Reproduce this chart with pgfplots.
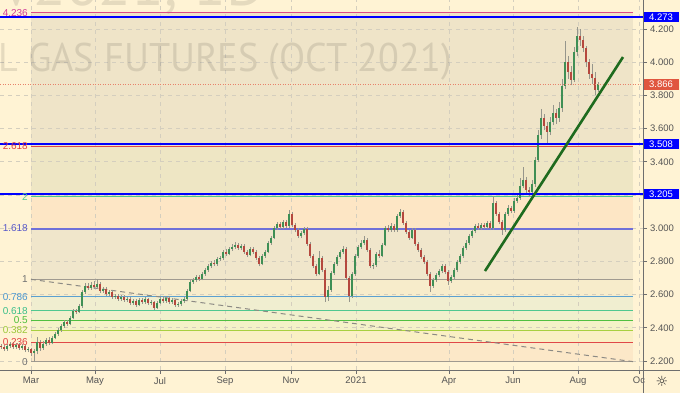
\documentclass[border=0pt]{standalone}
\usepackage{fontspec}
\setmainfont{Liberation Sans}
\newfontfamily\wmfont{PT Sans}
\newfontfamily\symfont{DejaVu Sans}
\usepackage{pgfplots}
\usepackage{pgfplotstable}
\pgfplotsset{compat=1.18}

\definecolor{cream}{HTML}{FFF3D4}
\definecolor{bA}{HTML}{FCE8C8}% 0-0.236
\definecolor{bB}{HTML}{FAF0C4}% 0.236-0.382
\definecolor{bC}{HTML}{F4F2C8}% 0.382-0.5
\definecolor{bD}{HTML}{F0F0CD}% 0.5-0.618
\definecolor{bE}{HTML}{F0EED0}% 0.618-0.786
\definecolor{bF}{HTML}{F7ECCB}% 0.786-1
\definecolor{bG}{HTML}{F0E6CB}% 1-1.618
\definecolor{bH}{HTML}{FDE6C5}% 1.618-2
\definecolor{bI}{HTML}{EEE6C4}% 2-2.618
\definecolor{bJ}{HTML}{EFE4C8}% 2.618-4.236
\definecolor{gridc}{RGB}{212,206,190}
\definecolor{axc}{RGB}{110,110,110}
\definecolor{labc}{RGB}{85,85,85}
\definecolor{tvblue}{HTML}{0000FF}
\definecolor{tvred}{HTML}{E0563F}
\definecolor{dotc}{HTML}{E8826A}
\definecolor{trendc}{HTML}{1E6B1E}
\definecolor{diagc}{HTML}{8C8A84}
\definecolor{upc}{RGB}{63,143,85}
\definecolor{dnc}{RGB}{181,72,62}
\definecolor{wickc}{RGB}{150,150,140}
\definecolor{fA}{HTML}{DE4B85}\definecolor{lA}{HTML}{D23C96}
\definecolor{fB}{HTML}{E04848}\definecolor{lB}{HTML}{E04040}
\definecolor{fC}{HTML}{4CC88C}\definecolor{lC}{HTML}{50C890}
\definecolor{fD}{HTML}{7070D8}\definecolor{lD}{HTML}{5858C8}
\definecolor{fE}{HTML}{A09A90}\definecolor{lE}{HTML}{707070}
\definecolor{fF}{HTML}{5AA0D0}\definecolor{lF}{HTML}{4A96D0}
\definecolor{fG}{HTML}{50C890}\definecolor{lG}{HTML}{3CBF8A}
\definecolor{fH}{HTML}{50C040}\definecolor{lH}{HTML}{4CBF3A}
\definecolor{fI}{HTML}{A8D040}\definecolor{lI}{HTML}{9CC83A}

\newcommand\pb[2]{{\setlength{\fboxsep}{1.8pt}\colorbox{#1}{\makebox[32pt][c]{\textcolor{white}{#2}}}}}

\pgfplotstableread{
x o h l c
1 2.290 2.302 2.272 2.284
4 2.284 2.296 2.260 2.272
7 2.272 2.302 2.262 2.290
10 2.290 2.316 2.280 2.302
13 2.302 2.312 2.274 2.284
16 2.284 2.308 2.272 2.296
19 2.296 2.306 2.266 2.278
22 2.278 2.300 2.268 2.290
25 2.290 2.298 2.254 2.266
28 2.266 2.284 2.252 2.272
31 2.272 2.280 2.232 2.248
34 2.248 2.272 2.196 2.260
37 2.260 2.345 2.240 2.314
40 2.314 2.326 2.262 2.278
43 2.278 2.318 2.268 2.302
46 2.302 2.340 2.292 2.327
49 2.327 2.342 2.298 2.308
52 2.308 2.350 2.300 2.339
55 2.339 2.374 2.330 2.363
58 2.363 2.398 2.352 2.387
61 2.387 2.422 2.376 2.411
64 2.411 2.446 2.400 2.435
67 2.435 2.448 2.412 2.423
70 2.423 2.470 2.414 2.459
73 2.459 2.512 2.450 2.501
76 2.501 2.514 2.484 2.495
79 2.495 2.545 2.488 2.531
82 2.531 2.630 2.522 2.616
85 2.616 2.668 2.604 2.652
88 2.652 2.672 2.628 2.640
91 2.640 2.676 2.630 2.658
94 2.658 2.680 2.634 2.646
97 2.646 2.692 2.636 2.664
100 2.664 2.676 2.610 2.622
103 2.622 2.648 2.610 2.634
106 2.634 2.644 2.594 2.604
109 2.604 2.628 2.592 2.616
112 2.616 2.626 2.576 2.586
115 2.586 2.604 2.574 2.592
118 2.592 2.602 2.562 2.573
121 2.573 2.598 2.562 2.586
124 2.586 2.596 2.556 2.567
127 2.567 2.586 2.554 2.573
130 2.573 2.584 2.538 2.549
133 2.549 2.574 2.540 2.561
136 2.561 2.572 2.526 2.537
139 2.537 2.580 2.530 2.567
142 2.567 2.578 2.544 2.555
145 2.555 2.586 2.546 2.573
148 2.573 2.582 2.538 2.549
151 2.549 2.568 2.536 2.555
154 2.555 2.564 2.510 2.519
157 2.519 2.560 2.512 2.549
160 2.549 2.586 2.542 2.573
163 2.573 2.590 2.550 2.561
166 2.561 2.594 2.552 2.580
169 2.580 2.590 2.546 2.555
172 2.555 2.580 2.544 2.567
175 2.567 2.576 2.528 2.537
178 2.537 2.556 2.526 2.543
181 2.543 2.574 2.534 2.561
184 2.561 2.586 2.552 2.573
187 2.573 2.636 2.566 2.622
190 2.622 2.690 2.614 2.676
193 2.676 2.702 2.664 2.688
196 2.688 2.720 2.678 2.706
199 2.706 2.718 2.682 2.694
202 2.694 2.736 2.686 2.724
205 2.724 2.760 2.714 2.748
208 2.748 2.784 2.738 2.772
211 2.772 2.804 2.762 2.790
214 2.790 2.806 2.772 2.784
217 2.784 2.826 2.774 2.814
220 2.814 2.834 2.802 2.820
223 2.820 2.870 2.810 2.857
226 2.857 2.872 2.834 2.845
229 2.845 2.888 2.836 2.875
232 2.875 2.902 2.864 2.887
235 2.887 2.914 2.876 2.899
238 2.899 2.910 2.870 2.881
241 2.881 2.906 2.868 2.893
244 2.893 2.904 2.846 2.857
247 2.857 2.868 2.826 2.839
250 2.839 2.888 2.830 2.875
253 2.875 2.886 2.846 2.857
256 2.857 2.868 2.808 2.820
259 2.820 2.830 2.770 2.784
262 2.784 2.846 2.776 2.833
265 2.833 2.870 2.822 2.857
268 2.857 2.924 2.848 2.911
271 2.911 2.954 2.900 2.941
274 2.941 3.014 2.932 3.001
277 3.001 3.040 2.990 3.025
280 3.025 3.038 2.994 3.007
283 3.007 3.050 2.996 3.037
286 3.037 3.048 3.000 3.013
289 3.013 3.110 3.004 3.086
292 3.086 3.096 3.006 3.019
295 3.019 3.030 2.976 2.989
298 2.989 3.000 2.940 2.953
301 2.953 2.986 2.942 2.971
304 2.971 3.010 2.962 2.995
307 2.995 3.006 2.894 2.905
310 2.905 2.916 2.820 2.833
313 2.833 2.844 2.760 2.772
316 2.772 2.784 2.712 2.724
319 2.724 2.860 2.716 2.820
322 2.820 2.832 2.736 2.748
325 2.748 2.760 2.556 2.586
328 2.586 2.650 2.560 2.628
331 2.628 2.744 2.618 2.730
334 2.730 2.798 2.720 2.784
337 2.784 2.840 2.774 2.827
340 2.827 2.870 2.816 2.857
343 2.857 2.890 2.846 2.875
346 2.875 2.886 2.690 2.700
349 2.700 2.710 2.556 2.592
352 2.592 2.736 2.580 2.724
355 2.724 2.846 2.714 2.833
358 2.833 2.900 2.822 2.887
361 2.887 2.926 2.876 2.911
364 2.911 2.950 2.900 2.929
367 2.929 2.940 2.858 2.869
370 2.869 2.880 2.760 2.772
373 2.772 2.792 2.752 2.778
376 2.778 2.858 2.768 2.845
379 2.845 2.866 2.822 2.833
382 2.833 2.912 2.824 2.899
385 2.899 3.014 2.890 3.001
388 3.001 3.018 2.976 2.989
391 2.989 3.030 2.978 3.013
394 3.013 3.026 2.976 2.989
397 2.989 3.088 2.980 3.074
400 3.074 3.116 3.062 3.098
403 3.098 3.108 3.020 3.031
406 3.031 3.042 2.966 2.977
409 2.977 2.990 2.930 2.941
412 2.941 3.004 2.932 2.989
415 2.989 3.000 2.894 2.905
418 2.905 2.916 2.858 2.869
421 2.869 2.880 2.816 2.827
424 2.827 2.838 2.784 2.796
427 2.796 2.808 2.712 2.724
430 2.724 2.736 2.616 2.652
433 2.652 2.702 2.640 2.688
436 2.688 2.732 2.676 2.718
439 2.718 2.756 2.706 2.742
442 2.742 2.786 2.730 2.772
445 2.772 2.784 2.724 2.736
448 2.736 2.748 2.660 2.682
451 2.682 2.720 2.670 2.706
454 2.706 2.760 2.696 2.748
457 2.748 2.808 2.738 2.796
460 2.796 2.846 2.784 2.833
463 2.833 2.894 2.822 2.881
466 2.881 2.926 2.870 2.911
469 2.911 2.966 2.900 2.953
472 2.953 2.998 2.942 2.983
475 2.983 3.028 2.972 3.013
478 3.013 3.030 2.990 3.001
481 3.001 3.034 2.988 3.019
484 3.019 3.032 2.994 3.007
487 3.007 3.046 2.996 3.031
490 3.031 3.044 2.988 3.001
493 3.001 3.195 2.992 3.152
496 3.152 3.164 3.074 3.086
499 3.086 3.098 3.024 3.037
502 3.037 3.048 2.960 2.989
505 2.989 3.100 2.978 3.086
508 3.086 3.140 3.074 3.122
511 3.122 3.136 3.090 3.104
514 3.104 3.180 3.094 3.164
517 3.164 3.200 3.150 3.182
520 3.182 3.300 3.170 3.254
523 3.254 3.370 3.240 3.290
526 3.290 3.310 3.215 3.230
529 3.230 3.250 3.190 3.218
532 3.218 3.290 3.200 3.266
535 3.266 3.430 3.250 3.411
538 3.411 3.590 3.400 3.561
541 3.561 3.720 3.540 3.664
544 3.664 3.690 3.590 3.616
547 3.616 3.640 3.510 3.580
550 3.580 3.670 3.560 3.640
553 3.640 3.740 3.620 3.694
556 3.694 3.720 3.630 3.664
559 3.664 3.760 3.640 3.724
562 3.724 3.900 3.700 3.857
565 3.857 4.130 3.840 4.001
568 4.001 4.040 3.900 3.941
571 3.941 3.980 3.860 3.893
574 3.893 4.090 3.880 4.061
577 4.061 4.210 4.040 4.158
580 4.158 4.200 4.100 4.134
583 4.134 4.160 4.060 4.086
586 4.086 4.100 3.970 4.001
589 4.001 4.020 3.900 3.929
592 3.929 3.990 3.870 3.905
595 3.905 3.940 3.800 3.833
598 3.833 3.880 3.820 3.866
}\bars

\begin{document}
\begin{tikzpicture}
\useasboundingbox (0pt,0pt) rectangle (680pt,393pt);
\fill[cream] (0pt,0pt) rectangle (680pt,393pt);
\begin{axis}[
  at={(0pt,23pt)}, anchor=south west,
  scale only axis, width=643pt, height=370pt,
  xmin=0, xmax=643, ymin=2.1458, ymax=4.3747,
  axis line style={draw=none},
  xtick={31,95,160,225,291,356,449,513,578,639},
  xticklabels={Mar,May,Jul,Sep,Nov,2021,Apr,Jun,Aug,Oc},
  ytick={2.2,2.4,2.6,2.8,3.0,3.4,3.6,3.8,4.0,4.2},
  xtick pos=bottom, ytick pos=right, yticklabel pos=right,
  tick align=outside, major tick length=4pt,
  tick style={draw=axc, line width=0.6pt},
  ticklabel style={font=\fontsize{9.5}{11}\selectfont, text=labc},
  xticklabel style={anchor=north, inner sep=0pt, yshift=-3pt},
  yticklabel style={anchor=west, inner sep=0pt, xshift=3pt,
    /pgf/number format/fixed, /pgf/number format/fixed zerofill,
    /pgf/number format/precision=3, /pgf/number format/assume math mode=true},
  extra y ticks={4.273,3.866,3.508,3.205},
  extra y tick labels={\pb{tvblue}{4.273},\pb{tvred}{3.866},\pb{tvblue}{3.508},\pb{tvblue}{3.205}},
  extra y tick style={major tick length=0pt, yticklabel style={xshift=-3pt}},
]
% Fibonacci bands
\addplot[draw=none, fill=bA, forget plot] coordinates {(31,2.196) (633,2.196) (633,2.313) (31,2.313)};
\addplot[draw=none, fill=bB, forget plot] coordinates {(31,2.313) (633,2.313) (633,2.385) (31,2.385)};
\addplot[draw=none, fill=bC, forget plot] coordinates {(31,2.385) (633,2.385) (633,2.444) (31,2.444)};
\addplot[draw=none, fill=bD, forget plot] coordinates {(31,2.444) (633,2.444) (633,2.503) (31,2.503)};
\addplot[draw=none, fill=bE, forget plot] coordinates {(31,2.503) (633,2.503) (633,2.586) (31,2.586)};
\addplot[draw=none, fill=bF, forget plot] coordinates {(31,2.586) (633,2.586) (633,2.692) (31,2.692)};
\addplot[draw=none, fill=bG, forget plot] coordinates {(31,2.692) (633,2.692) (633,2.998) (31,2.998)};
\addplot[draw=none, fill=bH, forget plot] coordinates {(31,2.998) (633,2.998) (633,3.188) (31,3.188)};
\addplot[draw=none, fill=bI, forget plot] coordinates {(31,3.188) (633,3.188) (633,3.494) (31,3.494)};
\addplot[draw=none, fill=bJ, forget plot] coordinates {(31,3.494) (633,3.494) (633,4.297) (31,4.297)};
% grid
\pgfplotsinvokeforeach{2.2,2.4,2.6,2.8,3.0,3.2,3.4,3.6,3.8,4.0,4.2}{
  \addplot[gridc, line width=0.8pt, dash pattern=on 4pt off 4pt, forget plot] coordinates {(0,#1) (643,#1)};
}
\pgfplotsinvokeforeach{31,95,160,225,291,356,449,513,578,639}{
  \addplot[gridc, line width=0.8pt, dash pattern=on 4pt off 4pt, forget plot] coordinates {(#1,2.1458) (#1,4.3747)};
}
% watermark
\node[anchor=base east, xscale=0.955, font=\wmfont\fontsize{40}{40}\selectfont, text=black, text opacity=0.1, inner sep=0pt] at (axis cs:452,3.941) {NATURAL GAS FUTURES (OCT 2021)};
\node[anchor=base east, font=\wmfont\fontsize{60}{60}\selectfont, text=black, text opacity=0.1, inner sep=0pt] at (axis cs:266,4.3386) {NGV2021, 1D};
% Fibonacci levels
\addplot[fA, line width=1pt, forget plot] coordinates {(31,4.297) (633,4.297)};
\addplot[fB, line width=1pt, forget plot] coordinates {(31,3.494) (633,3.494)};
\addplot[fC, line width=1pt, forget plot] coordinates {(31,3.188) (633,3.188)};
\addplot[fD, line width=2pt, forget plot] coordinates {(31,2.998) (633,2.998)};
\addplot[fE, line width=1.4pt, forget plot] coordinates {(31,2.692) (633,2.692)};
\addplot[fF, line width=1pt, forget plot] coordinates {(31,2.586) (633,2.586)};
\addplot[fG, line width=1pt, forget plot] coordinates {(31,2.503) (633,2.503)};
\addplot[fH, line width=1pt, forget plot] coordinates {(31,2.444) (633,2.444)};
\addplot[fI, line width=1pt, forget plot] coordinates {(31,2.385) (633,2.385)};
\addplot[fB, line width=1pt, forget plot] coordinates {(31,2.313) (633,2.313)};
\addplot[fE, line width=1.4pt, forget plot] coordinates {(31,2.196) (633,2.196)};
% diagonal dashed line
\addplot[diagc, line width=1pt, dash pattern=on 5pt off 4pt, forget plot] coordinates {(31,2.692) (633,2.196)};
% candles: wicks
\addplot[draw=none, mark=none, forget plot,
  error bars/.cd, y dir=plus, y explicit, error mark=none,
  error bar style={draw=wickc, line width=0.7pt}]
  table[x=x, y=l, y error expr=\thisrow{h}-\thisrow{l}] {\bars};
% candles: up bodies
\addplot[draw=none, mark=none, forget plot,
  restrict expr to domain={\thisrow{c}-\thisrow{o}}{0:100},
  error bars/.cd, y dir=plus, y explicit, error mark=none,
  error bar style={draw=upc, line width=1.8pt}]
  table[x=x, y=o, y error expr=\thisrow{c}-\thisrow{o}] {\bars};
% candles: down bodies
\addplot[draw=none, mark=none, forget plot,
  restrict expr to domain={\thisrow{o}-\thisrow{c}}{0.0001:100},
  error bars/.cd, y dir=plus, y explicit, error mark=none,
  error bar style={draw=dnc, line width=1.8pt}]
  table[x=x, y=c, y error expr=\thisrow{o}-\thisrow{c}] {\bars};
% horizontal levels
\addplot[dotc, line width=0.9pt, dash pattern=on 1pt off 1.5pt, forget plot] coordinates {(0,3.866) (643,3.866)};
\addplot[tvblue, line width=2pt, forget plot] coordinates {(0,4.273) (643,4.273)};
\addplot[tvblue, line width=2pt, forget plot] coordinates {(0,3.508) (643,3.508)};
\addplot[tvblue, line width=2pt, forget plot] coordinates {(0,3.205) (643,3.205)};
% trend line
\addplot[trendc, line width=2.6pt, forget plot] coordinates {(485,2.742) (623,4.031)};
% Fibonacci labels
\begin{scope}[every node/.style={anchor=east, inner sep=0pt, font=\fontsize{10}{11}\selectfont}]
\node[text=lA] at (axis cs:28,4.297) {4.236};
\node[text=lB] at (axis cs:28,3.494) {2.618};
\node[text=lC] at (axis cs:28,3.188) {2};
\node[text=lD] at (axis cs:28,2.998) {1.618};
\node[text=lE] at (axis cs:28,2.692) {1};
\node[text=lF] at (axis cs:28,2.586) {0.786};
\node[text=lG] at (axis cs:28,2.503) {0.618};
\node[text=lH] at (axis cs:28,2.444) {0.5};
\node[text=lI] at (axis cs:28,2.385) {0.382};
\node[text=lB] at (axis cs:28,2.313) {0.236};
\node[text=lE] at (axis cs:28,2.196) {0};
\end{scope}
\end{axis}
\draw[axc, line width=0.8pt] (0pt,23pt) -- (680pt,23pt);
\draw[axc, line width=0.8pt] (643pt,0pt) -- (643pt,393pt);
\node[font=\symfont\fontsize{14}{14}\selectfont, text=black!80] at (662pt,12pt) {☼};
\end{tikzpicture}
\end{document}
